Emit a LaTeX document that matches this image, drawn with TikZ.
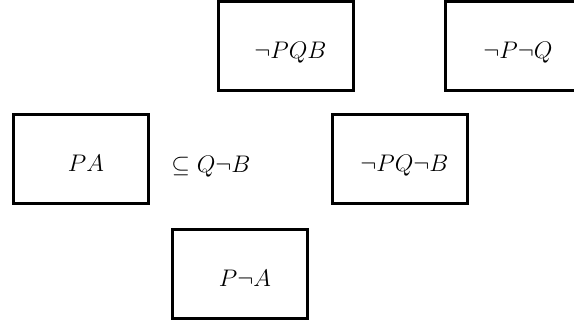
\documentclass[tikz,border=0pt]{standalone}
\begin{document}
\begin{tikzpicture}[x=0.5pt,y=-0.5pt,
  box/.style={draw,line width=1.5pt,minimum width=67.5pt,minimum height=44.5pt,inner sep=0pt,
    font=\large,text height=12.2pt,text depth=0pt,execute at begin node={\hspace*{5pt}}}]
\useasboundingbox (0,0) rectangle (574,324);
\clip (0,0) rectangle (574,324);
\node[box] (nPQB) at (285.5,46.5) {$\neg PQB$};
\node[box] (nPnQ) at (513,46) {$\neg P\neg Q$};
\node[box] (PA) at (81,159) {$PA$};
\node[anchor=base,font=\large,inner sep=0pt] (sub) at (211,172.5) {$\subseteq Q\neg B$};
\node[box] (nPQnB) at (399.5,159) {$\neg PQ\neg B$};
\node[box] (PnA) at (240,274) {$P\neg A$};
\end{tikzpicture}
\end{document}
